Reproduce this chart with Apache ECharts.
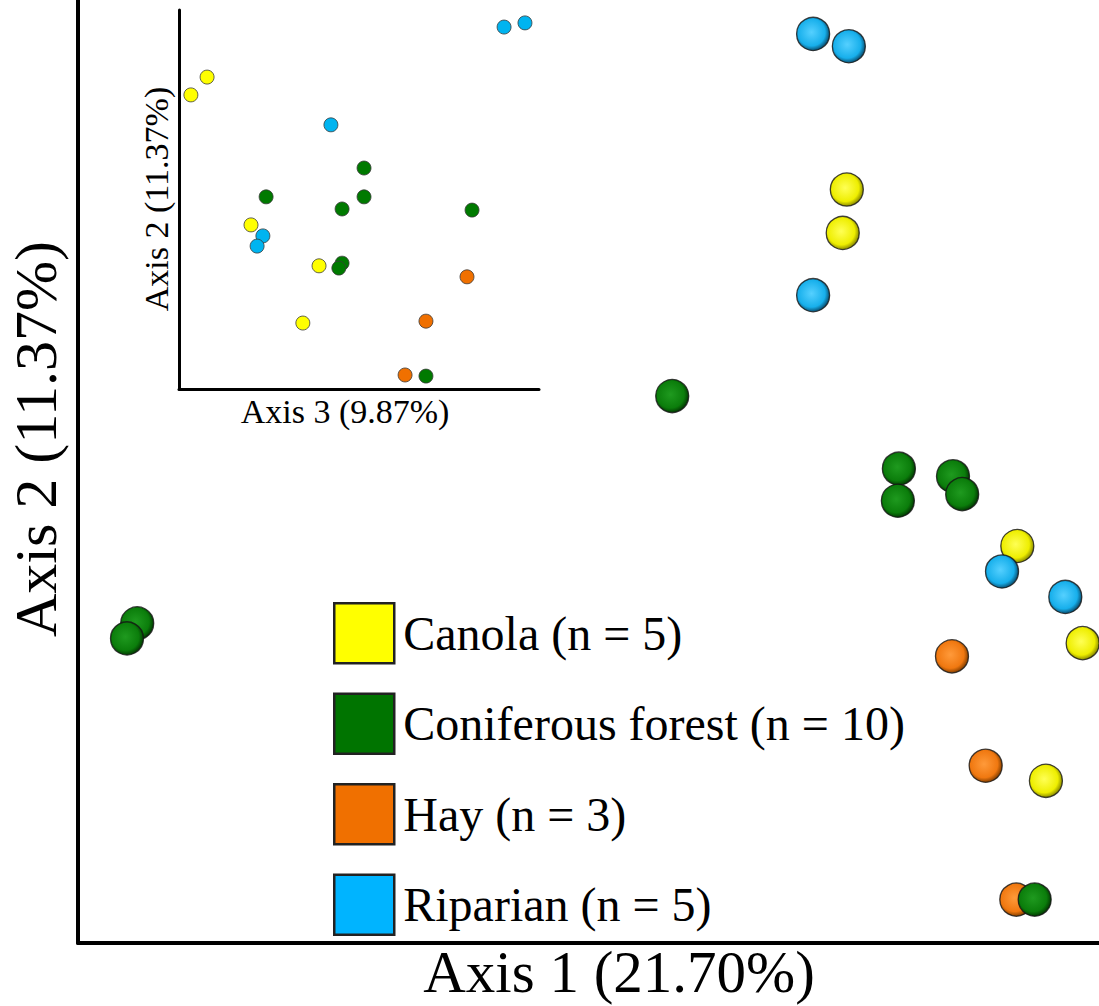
<!DOCTYPE html>
<html>
<head>
<meta charset="utf-8">
<style>
  html, body { margin: 0; padding: 0; background: #fff; }
  #chart { width: 1099px; height: 1006px; }
</style>
<script src="https://cdn.jsdelivr.net/npm/echarts@6/dist/echarts.min.js"></script>
</head>
<body>
<div id="chart"></div>
<script>
// ---- Data (axis units are arbitrary 0-100 ordination scores) ----
const groupNames = ['Canola (n = 5)', 'Coniferous forest (n = 10)', 'Hay (n = 3)', 'Riparian (n = 5)'];

// Main plot: Axis 1 (x) vs Axis 2 (y)
const mainCanola     = [[75.3, 79.9], [74.9, 75.3], [92.0, 42.1], [98.4, 31.8], [94.8, 17.2]];
const mainConiferous = [[58.2, 58.0], [80.4, 50.3], [80.3, 46.9], [85.7, 49.5], [86.6, 47.6],
                        [5.8, 33.9], [4.8, 32.3], [93.7, 4.6]];
const mainHay        = [[85.6, 30.4], [88.9, 18.8], [91.9, 4.6]];
const mainRiparian   = [[72.0, 96.4], [75.5, 95.1], [72.0, 68.7], [90.5, 39.4], [96.7, 36.7]];

// Inset: Axis 3 (x) vs Axis 2 (y)
const insetCanola     = [[3.3, 77.6], [7.8, 82.3], [20.0, 43.3], [38.9, 32.5], [34.4, 17.4]];
const insetConiferous = [[24.2, 50.7], [51.4, 58.3], [51.4, 50.7], [45.3, 47.5], [81.4, 47.2],
                         [45.3, 33.2], [44.4, 31.9], [68.6, 3.4]];
const insetHay        = [[80.0, 29.6], [68.6, 17.9], [62.8, 3.7]];
const insetRiparian   = [[90.3, 95.5], [96.1, 96.6], [42.2, 69.7], [23.3, 40.4], [21.7, 37.7]];

const axisTitles = { x: 'Axis 1 (21.70%)', y: 'Axis 2 (11.37%)', insetX: 'Axis 3 (9.87%)', insetY: 'Axis 2 (11.37%)' };

// ---- Styles ----
const FONT = 'Liberation Serif';
const legendColors = ['#FFFF00', '#007400', '#F07000', '#00B4FF'];
const ballColors = [
  ['#ffff55', '#eeee00', '#8f8f00'],
  ['#1f9a1f', '#0b7d0b', '#033d03'],
  ['#ff9a3a', '#f07810', '#8a4200'],
  ['#55d0ff', '#17afeb', '#0a5478']
];
const insetColors = ['#FFFF00', '#007A00', '#F07000', '#00B4F0'];
const mainData = [mainCanola, mainConiferous, mainHay, mainRiparian];
const insetData = [insetCanola, insetConiferous, insetHay, insetRiparian];
const zOrder = [2, 3, 2, 4];

function ball(i) {
  return {
    type: 'radial', x: 0.45, y: 0.45, r: 0.55,
    colorStops: [
      { offset: 0, color: ballColors[i][0] },
      { offset: 0.75, color: ballColors[i][1] },
      { offset: 1, color: ballColors[i][2] }
    ]
  };
}

const hiddenAxis = {
  splitLine: { show: false }, axisTick: { show: false }, axisLabel: { show: false }
};

const series = [];
groupNames.forEach((name, i) => {
  series.push({
    name, type: 'scatter', xAxisIndex: 0, yAxisIndex: 0,
    data: mainData[i], symbolSize: 33, z: zOrder[i], clip: false,
    itemStyle: { color: ball(i), borderColor: 'rgba(20,20,20,0.8)', borderWidth: 1.3, opacity: 1 },
    emphasis: { disabled: true }
  });
});
groupNames.forEach((name, i) => {
  series.push({
    name, type: 'scatter', xAxisIndex: 1, yAxisIndex: 1,
    data: insetData[i], symbolSize: 14, z: 5 + zOrder[i], clip: false,
    itemStyle: { color: insetColors[i], borderColor: '#3a3a3a', borderWidth: 0.8, opacity: 1 },
    emphasis: { disabled: true }
  });
});

const chart = echarts.init(document.getElementById('chart'), null, { renderer: 'svg' });
chart.setOption({
  backgroundColor: '#ffffff',
  animation: false,
  grid: [
    { left: 78, right: 0, top: 0, bottom: 63 },
    { left: 179, top: 10, width: 360, height: 379 }
  ],
  xAxis: [
    Object.assign({ type: 'value', gridIndex: 0, min: 0, max: 100,
      axisLine: { show: true, onZero: false, lineStyle: { color: '#000', width: 4 } } }, hiddenAxis),
    Object.assign({ type: 'value', gridIndex: 1, min: 0, max: 100,
      axisLine: { show: true, onZero: false, lineStyle: { color: '#000', width: 3 } } }, hiddenAxis)
  ],
  yAxis: [
    Object.assign({ type: 'value', gridIndex: 0, min: 0, max: 100,
      axisLine: { show: true, onZero: false, lineStyle: { color: '#000', width: 4 } } }, hiddenAxis),
    Object.assign({ type: 'value', gridIndex: 1, min: 0, max: 100,
      axisLine: { show: true, onZero: false, lineStyle: { color: '#000', width: 3 } } }, hiddenAxis)
  ],
  legend: {
    orient: 'vertical', left: 333, top: 602, padding: 0,
    itemWidth: 60, itemHeight: 60, itemGap: 28,
    icon: 'rect', selectedMode: false,
    textStyle: { fontFamily: FONT, fontSize: 48, color: '#000', lineHeight: 60, padding: [0, 0, 0, 4] },
    data: groupNames.map((n, i) => ({
      name: n,
      itemStyle: { color: legendColors[i], borderColor: '#222', borderWidth: 2.5 }
    }))
  },
  graphic: [
    { type: 'text', x: 619, y: 972, style: { text: axisTitles.x, font: '59px "' + FONT + '"', fill: '#000', align: 'center', verticalAlign: 'middle' } },
    { type: 'text', x: 36, y: 439, rotation: Math.PI / 2, style: { text: axisTitles.y, font: '60px "' + FONT + '"', fill: '#000', align: 'center', verticalAlign: 'middle' } },
    { type: 'text', x: 345, y: 411, style: { text: axisTitles.insetX, font: '34px "' + FONT + '"', fill: '#000', align: 'center', verticalAlign: 'middle' } },
    { type: 'text', x: 156, y: 199, rotation: Math.PI / 2, style: { text: axisTitles.insetY, font: '34px "' + FONT + '"', fill: '#000', align: 'center', verticalAlign: 'middle' } }
  ],
  series
});
</script>
</body>
</html>
